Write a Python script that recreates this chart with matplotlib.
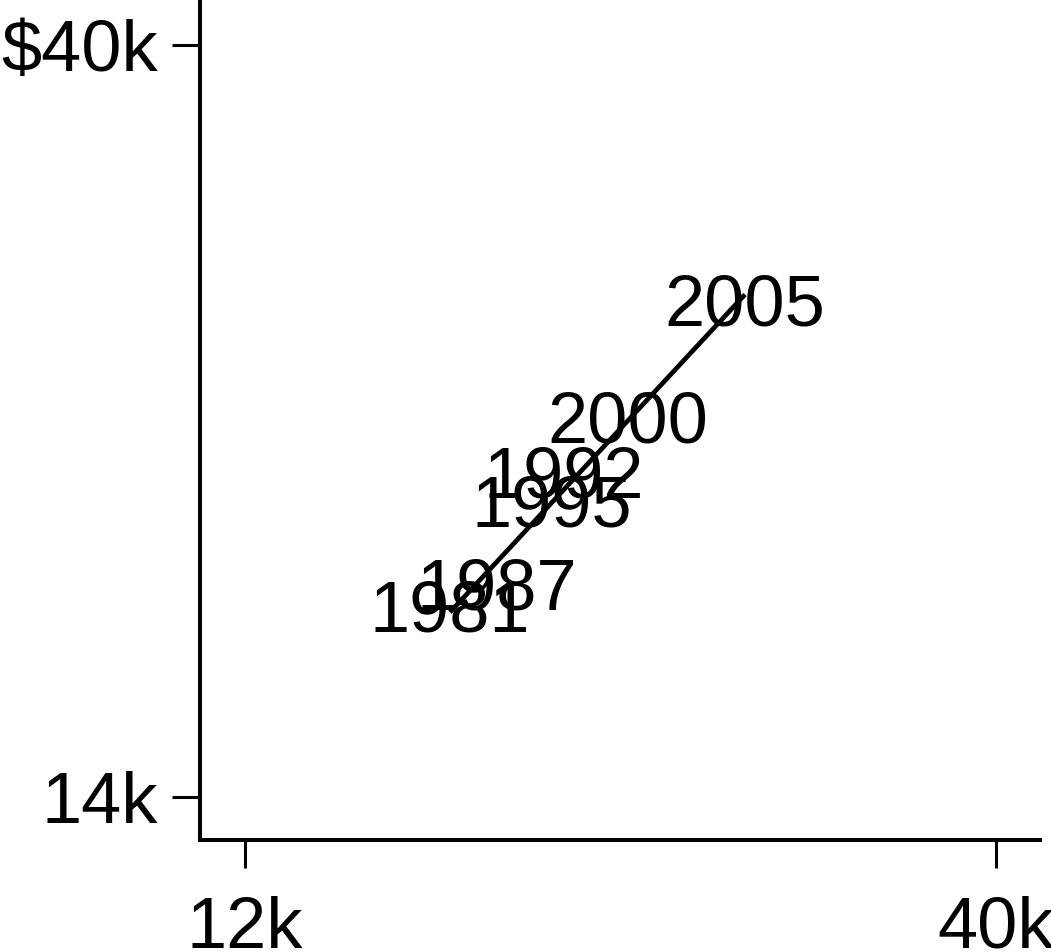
#Labelled scatter of years with a linear fit line

import numpy as np
import matplotlib
matplotlib.use("Agg")
import matplotlib.pyplot as plt

plt.rcParams['font.family'] = ['Liberation Sans', 'DejaVu Sans']

years = ["1981", "1987", "1992", "1995", "2000", "2005"]
x_values = [19.64, 21.40, 23.89, 23.45, 26.28, 30.64]   # thousands
y_values = [20.60, 21.36, 25.24, 24.23, 27.14, 31.18]   # thousands

x_ticks = [12, 40]
x_tick_labels = ["12k", "40k"]
y_ticks = [14, 40]
y_tick_labels = ["14k", "$40k"]

fig = plt.figure(figsize=(10.51, 9.52), dpi=100)
ax = fig.add_axes([200/1051, 112/952, 840/1051, 840/952])

# linear fit from min x to max x
slope, icpt = np.polyfit(x_values, y_values, 1)
xs = np.array([min(x_values), max(x_values)])
ax.plot(xs, slope*xs + icpt, color="black", lw=3.4, solid_capstyle="butt")

for yr, xv, yv in zip(years, x_values, y_values):
	ax.annotate(yr, (xv, yv), xytext=(0, -18.5), textcoords="offset points",
		ha="center", va="baseline", fontsize=52, color="black")

ax.set_xlim(10.32, 41.64)
ax.set_ylim(12.51, 41.56)

ax.set_xticks(x_ticks)
ax.set_xticklabels(x_tick_labels)
ax.set_yticks(y_ticks)
ax.set_yticklabels(y_tick_labels)
ax.tick_params(axis="both", direction="out", length=20, width=2.2, labelsize=52, color="black")
ax.tick_params(axis="x", pad=20)
ax.tick_params(axis="y", pad=10)

for side in ["top", "right"]:
	ax.spines[side].set_visible(False)
for side in ["left", "bottom"]:
	ax.spines[side].set_linewidth(2.9)

fig.savefig("out.png", dpi=100)
